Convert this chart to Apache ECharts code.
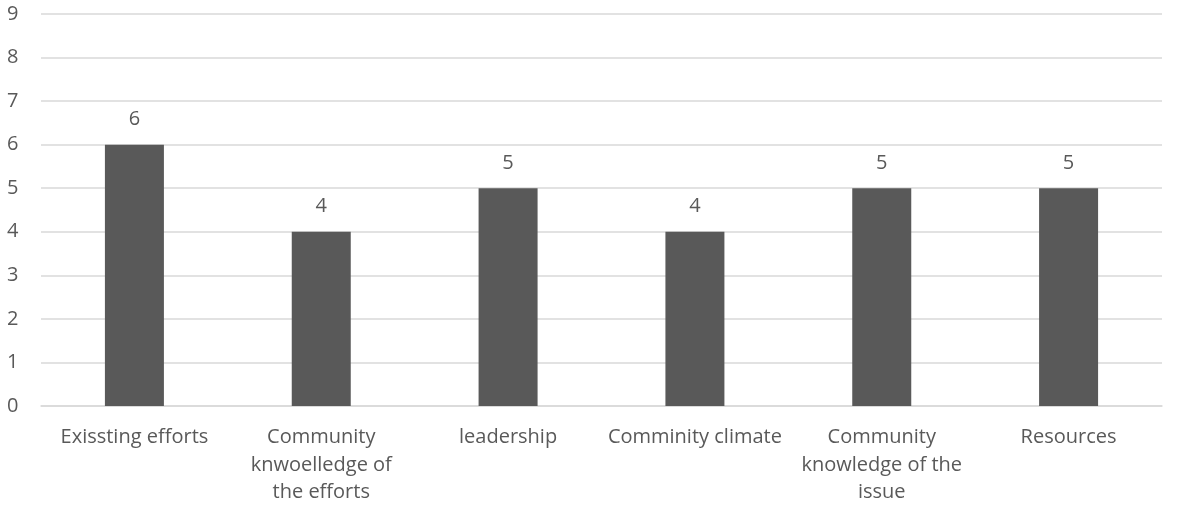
<!DOCTYPE html>
<html>
<head>
<meta charset="utf-8">
<script src="https://cdn.jsdelivr.net/npm/echarts@6/dist/echarts.min.js"></script>
<style>
  html, body { margin: 0; padding: 0; background: #fff; }
  #main { width: 1180px; height: 511px; }
</style>
</head>
<body>
<div id="main"></div>
<script>
var categories = [
  'Exissting efforts',
  'Community\nknwoelledge of\nthe efforts',
  'leadership',
  'Comminity climate',
  'Community\nknowledge of the\nissue',
  'Resources'
];
var values = [6, 4, 5, 4, 5, 5];

var textColor = '#595959';
var font = 'Open Sans';

var myChart = echarts.init(document.getElementById('main'));
var option = {
  animation: false,
  grid: {
    top: 14,
    left: 41,
    right: 18,
    bottom: 105
  },
  xAxis: {
    type: 'category',
    data: categories,
    axisLine: { lineStyle: { color: '#d9d9d9', width: 1.5 } },
    axisTick: { show: false },
    axisLabel: {
      color: textColor,
      fontFamily: font,
      fontSize: 20,
      lineHeight: 27.5,
      margin: 18,
      interval: 0
    }
  },
  yAxis: {
    type: 'value',
    min: 0,
    max: 9,
    interval: 1,
    axisLine: { show: false },
    axisTick: { show: false },
    splitLine: { lineStyle: { color: '#d9d9d9', width: 1.5 } },
    axisLabel: {
      color: textColor,
      fontFamily: font,
      fontSize: 20,
      margin: 34,
      align: 'left'
    }
  },
  series: [
    {
      type: 'bar',
      data: values,
      barWidth: 59,
      itemStyle: { color: '#595959' },
      label: {
        show: true,
        position: 'top',
        distance: 15,
        color: textColor,
        fontFamily: font,
        fontSize: 20
      }
    }
  ]
};
myChart.setOption(option);
</script>
</body>
</html>
